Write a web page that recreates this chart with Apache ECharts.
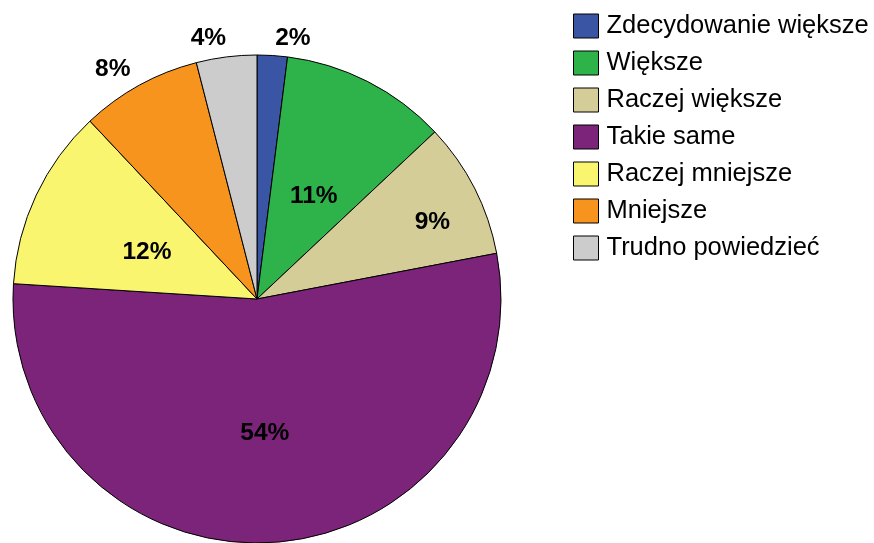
<!DOCTYPE html>
<html>
<head>
<meta charset="utf-8">
<title>Pie</title>
<script src="https://cdn.jsdelivr.net/npm/echarts@6/dist/echarts.min.js"></script>
<style>
  html, body { margin: 0; padding: 0; background: #fff; }
</style>
</head>
<body>
<div id="main" style="width: 874px; height: 543px;"></div>
<script type="text/javascript">
// dane
var categories = ['Zdecydowanie większe', 'Większe', 'Raczej większe', 'Takie same', 'Raczej mniejsze', 'Mniejsze', 'Trudno powiedzieć'];
var values = [2, 11, 9, 54, 12, 8, 4];
var colors = ['#3A55A4', '#2DB34A', '#D4CD98', '#7B2479', '#FAF56F', '#F7941D', '#CCCCCC'];

// przesunięcia etykiet względem środka wycinka
var labelShift = [[28, -136], [0, 9], [64, -20], [0, 9], [3, 6], [-84, -120], [-33, -137]];

var myChart = echarts.init(document.getElementById('main'));

var option = {
  animation: false,
  textStyle: { fontFamily: "'Liberation Sans', Arial, sans-serif" },
  color: colors,
  legend: {
    orient: 'vertical',
    left: 573,
    top: 13,
    padding: 0,
    itemWidth: 25,
    itemHeight: 24,
    itemGap: 11,
    icon: 'rect',
    itemStyle: { borderColor: '#000', borderWidth: 1 },
    textStyle: { fontSize: 25.5, lineHeight: 24, color: '#000', padding: [0, 0, 0, 3] },
    data: categories
  },
  series: [{
    type: 'pie',
    center: [257, 299],
    radius: 244,
    startAngle: 90,
    clockwise: true,
    itemStyle: { borderColor: '#000', borderWidth: 1 },
    label: {
      show: true,
      position: 'inside',
      formatter: '{c}%',
      fontSize: 24.5,
      fontWeight: 'bold',
      color: '#000'
    },
    labelLine: { show: false },
    labelLayout: function (p) {
      var s = labelShift[p.dataIndex];
      return { dx: s[0], dy: s[1] };
    },
    emphasis: { disabled: true },
    data: categories.map(function (name, i) {
      return { name: name, value: values[i] };
    })
  }]
};

myChart.setOption(option);
</script>
</body>
</html>
